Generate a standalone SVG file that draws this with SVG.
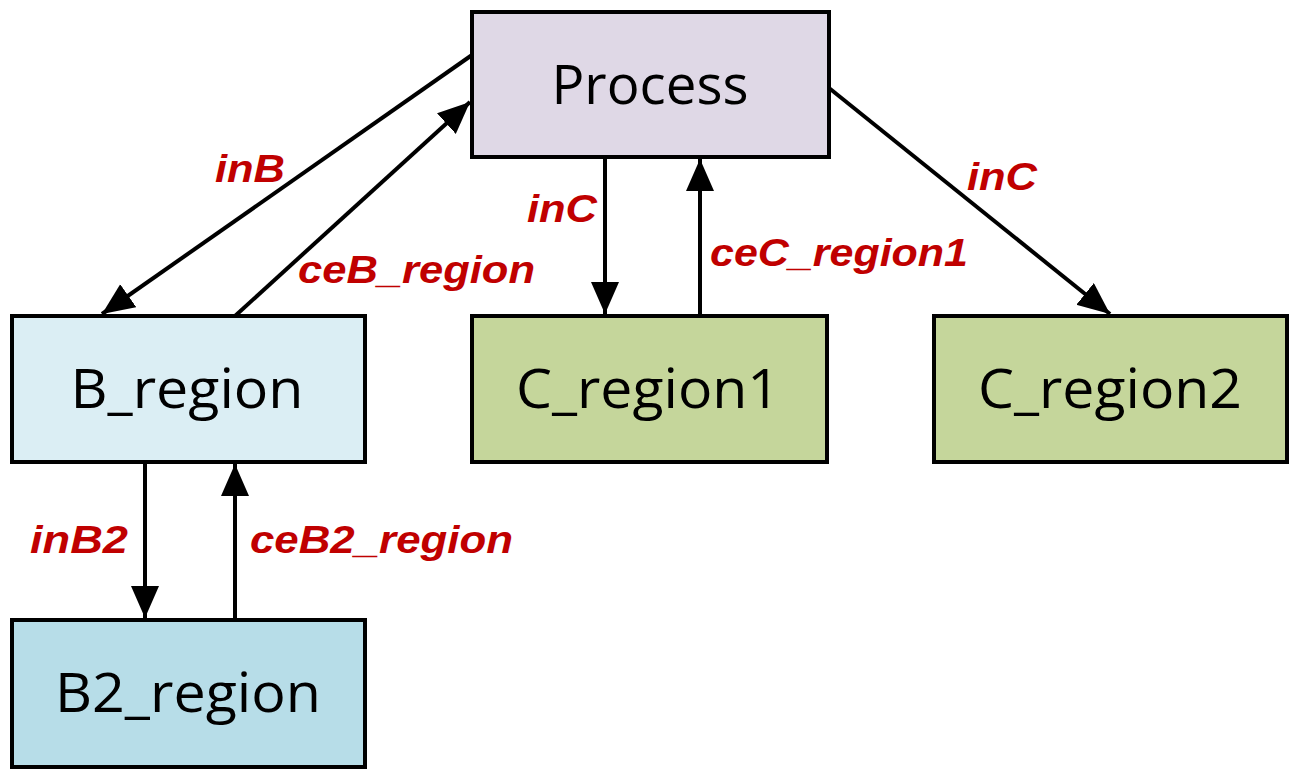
<svg xmlns="http://www.w3.org/2000/svg" width="1301" height="782" viewBox="0 0 1301 782">
<style>
.n{stroke:#000;stroke-width:4}
.t{font-family:"Open Sans","Liberation Sans",sans-serif;font-size:54px;fill:#000;text-anchor:middle}
.l{font-family:"Liberation Sans",sans-serif;font-size:39px;font-weight:bold;font-style:italic;fill:#c00000}
.c{stroke:#000;stroke-width:4;fill:none;marker-end:url(#a)}
</style>
<defs><marker id="a" markerUnits="userSpaceOnUse" markerWidth="34" markerHeight="30" refX="32" refY="14" orient="auto"><path d="M0,0 L32,14 L0,28 Z" fill="#000"/></marker></defs>
<rect width="1301" height="782" fill="#fff"/>
<g id="connectors">
<line class="c" x1="472" y1="55" x2="102" y2="314"/>
<line class="c" x1="235" y1="316" x2="470" y2="102"/>
<line class="c" x1="605" y1="157" x2="605" y2="314"/>
<line class="c" x1="700" y1="316" x2="700" y2="159"/>
<line class="c" x1="829" y1="88" x2="1110" y2="314"/>
<line class="c" x1="145" y1="462" x2="145" y2="618"/>
<line class="c" x1="235" y1="620" x2="235" y2="464"/>
</g>
<g id="labels">
<text class="l" x="215" y="182" textLength="70" lengthAdjust="spacingAndGlyphs">inB</text>
<text class="l" x="298" y="283" textLength="237" lengthAdjust="spacingAndGlyphs">ceB_region</text>
<text class="l" x="527" y="222" textLength="70" lengthAdjust="spacingAndGlyphs">inC</text>
<text class="l" x="710" y="266" textLength="258" lengthAdjust="spacingAndGlyphs">ceC_region1</text>
<text class="l" x="967" y="190" textLength="70" lengthAdjust="spacingAndGlyphs">inC</text>
<text class="l" x="30" y="553" textLength="98" lengthAdjust="spacingAndGlyphs">inB2</text>
<text class="l" x="250" y="553" textLength="263" lengthAdjust="spacingAndGlyphs">ceB2_region</text>
</g>
<g id="process"><rect class="n" x="472" y="12" width="357" height="145" fill="#dfd8e6"/><text class="t" x="650" y="104" textLength="197" lengthAdjust="spacingAndGlyphs">Process</text></g>
<g id="b_region"><rect class="n" x="12" y="316" width="353" height="146" fill="#dbeef4"/><text class="t" x="187" y="408" textLength="233" lengthAdjust="spacingAndGlyphs">B_region</text></g>
<g id="c_region1"><rect class="n" x="472" y="316" width="355" height="146" fill="#c5d69b"/><text class="t" x="648" y="408" textLength="264" lengthAdjust="spacingAndGlyphs">C_region1</text></g>
<g id="c_region2"><rect class="n" x="934" y="316" width="353" height="146" fill="#c5d69b"/><text class="t" x="1110" y="408" textLength="264" lengthAdjust="spacingAndGlyphs">C_region2</text></g>
<g id="b2_region"><rect class="n" x="12" y="620" width="353" height="147" fill="#b7dde8"/><text class="t" x="188" y="712" textLength="266" lengthAdjust="spacingAndGlyphs">B2_region</text></g>
</svg>
